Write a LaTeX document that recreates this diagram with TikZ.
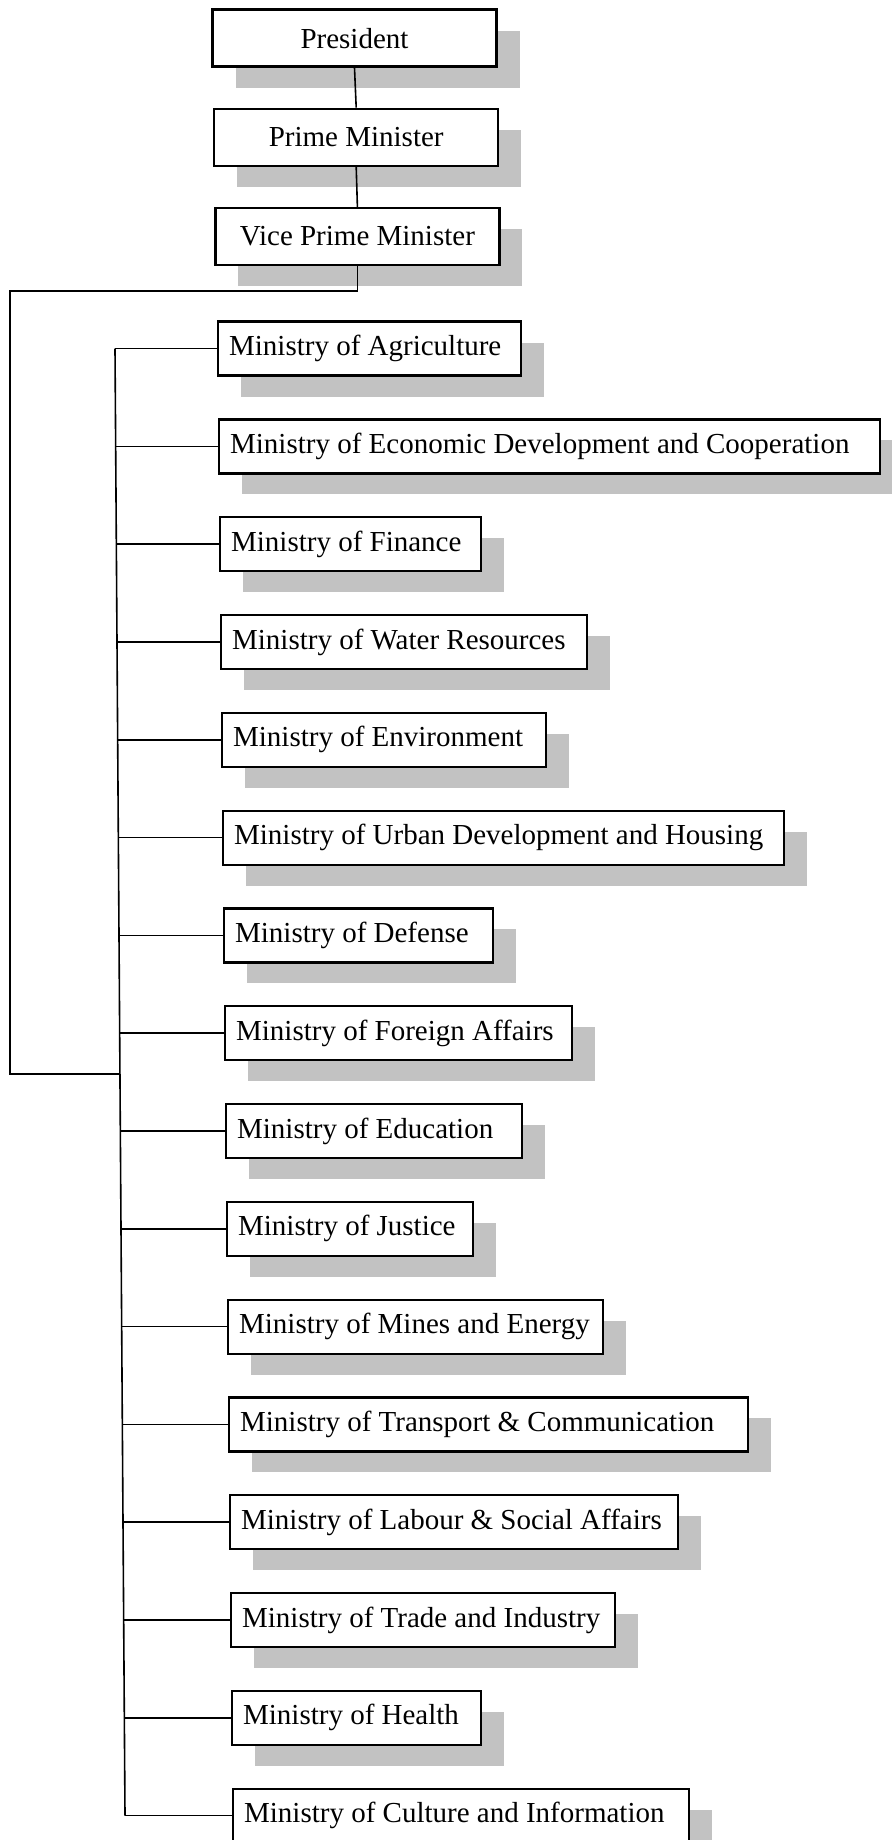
\documentclass[tikz,border=0pt]{standalone}
\usepackage{fontspec}
\setmainfont{Liberation Serif}
\usetikzlibrary{shadows}
\tikzset{
  boxshadow/.style={drop shadow={shadow xshift=11.5pt, shadow yshift=-10.5pt, fill=black!24, opacity=1}},
  topbox/.style={draw, line width=1.1pt, fill=white, boxshadow, minimum height=28.5pt, minimum width=142pt, inner sep=0pt, font=\fontsize{14.5}{17}\selectfont},
  mbox/.style={draw, line width=1.1pt, fill=white, boxshadow, minimum height=27pt, inner xsep=5.5pt, inner ysep=0pt, font=\fontsize{14.5}{17}\selectfont},
  conn/.style={line width=0.8pt}
}
\begin{document}
\begin{tikzpicture}[x=0.5pt,y=-0.5pt]
\clip (0,0) rectangle (892,1840);
\fill[white] (0,0) rectangle (892,1840);
\node[topbox] (pres) at (354.5,38.1) {President};
\node[topbox] (pm) at (356.2,137.3) {Prime Minister};
\node[topbox] (vpm) at (357.4,236.5) {Vice Prime Minister};
\draw[conn] (pres.south) -- (pm.north);
\draw[conn] (pm.south) -- (vpm.north);
\foreach \w/\t [count=\i from 0] in {
 303/Ministry of Agriculture,
 661/Ministry of Economic Development and Cooperation,
 261/Ministry of Finance,
 366/Ministry of Water Resources,
 324/Ministry of Environment,
 561/Ministry of Urban Development and Housing,
 269/Ministry of Defense,
 347/Ministry of Foreign Affairs,
 296/Ministry of Education,
 246/Ministry of Justice,
 375/Ministry of Mines and Energy,
 519/Ministry of Transport \& Communication,
 448/Ministry of Labour \& Social Affairs,
 384/Ministry of Trade and Industry,
 249/Ministry of Health,
 456/Ministry of Culture and Information}{
  \pgfmathsetmacro{\tw}{(\w-22)/2}
  \node[mbox, anchor=west] (m\i) at ({217+\i},{348.6+97.8*\i}) {\makebox[\tw pt][l]{\t}};
  \coordinate (b\i) at ({115+0.667*\i},{348.6+97.8*\i});
  \draw[conn] (b\i) -- (m\i.west);
}
\draw[conn] (b0) -- (b15);
\coordinate (j1) at (10,291);
\coordinate (j2) at (10,1074);
\coordinate (j3) at (119.9,1074);
\draw[conn] (vpm.south) |- (j1) -- (j2) -- (j3);
\end{tikzpicture}
\end{document}
